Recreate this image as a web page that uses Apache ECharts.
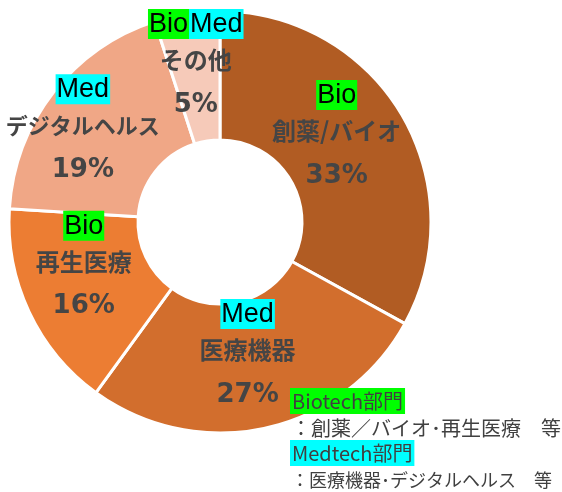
<!DOCTYPE html>
<html lang="ja">
<head>
    <meta charset="UTF-8">
    <title>部門別構成</title>
    <script type="text/javascript" src="https://cdn.jsdelivr.net/npm/echarts@6/dist/echarts.min.js"></script>
    <style>
        html, body { margin: 0; padding: 0; background: #fff; }
        #main { width: 562px; height: 492px; }
    </style>
</head>
<body>
<div id="main"></div>
<script>
    // データ
    var names = ['創薬/バイオ', '医療機器', '再生医療', 'デジタルヘルス', 'その他'];
    var values = [33, 27, 16, 19, 5];
    var tags = ['Bio', 'Med', 'Bio', 'Med', 'BioMed'];
    var colors = ['#B15C23', '#D26E2D', '#EC7D33', '#F0A786', '#F6CAB9'];
    var notes = ['Biotech部門', '：創薬／バイオ･再生医療　等', 'Medtech部門', '：医療機器･デジタルヘルス　等'];
    // ラベルの微調整 (px)
    var labelOffsets = [[-12, -6], [-5, -9], [-1, -15], [-19, 4], [0, 0]];
    var nameSizes = [24, 24, 24, 22, 24];

    var chartDom = document.getElementById('main');
    var myChart = echarts.init(chartDom);

    var cx = 220, cy = 222;
    var total = values.reduce(function (a, b) { return a + b; }, 0);
    var jp = '"Noto Sans CJK JP", sans-serif';

    function makeRich(nameSize) {
        return {
            bio: { backgroundColor: '#00FF00', color: '#000', fontFamily: 'Liberation Sans', fontSize: 27, padding: [2, 1, 1, 1], lineHeight: 32 },
            med: { backgroundColor: '#00FFFF', color: '#000', fontFamily: 'Liberation Sans', fontSize: 27, padding: [2, 1, 1, 1], lineHeight: 32 },
            name: { color: '#454545', fontFamily: jp, fontWeight: 'bold', fontSize: nameSize, lineHeight: 40, align: 'center' },
            pct: { color: '#454545', fontFamily: 'DejaVu Sans', fontWeight: 'bold', fontSize: 26, lineHeight: 50, align: 'center' }
        };
    }

    var pieData = names.map(function (n, i) {
        var d = { name: n, value: values[i], tag: tags[i], itemStyle: { color: colors[i] },
            label: { offset: labelOffsets[i], rich: makeRich(nameSizes[i]) } };
        if (i === names.length - 1) {
            // 小さい扇形は内側ラベルが消えるので外側扱いにして位置を調整
            d.label.position = 'outside';
            d.labelLine = { show: false };
        }
        return d;
    });

    function tagText(t) {
        if (t === 'BioMed') return '{bio|Bio}{med|Med}';
        return t === 'Bio' ? '{bio|Bio}' : '{med|Med}';
    }

    var option = {
        animation: false,
        series: [{
            type: 'pie',
            center: [cx, cy],
            radius: [82, 211],
            startAngle: 90,
            clockwise: true,
            avoidLabelOverlap: false,
            itemStyle: { borderColor: '#fff', borderWidth: 3 },
            label: {
                show: true,
                position: 'inside',
                formatter: function (p) {
                    return tagText(p.data.tag) + '\n{name|' + p.name + '}\n{pct|' + p.value + '%}';
                },
                rich: makeRich(24)
            },
            labelLine: { show: false },
            labelLayout: function (params) {
                if (params.dataIndex !== names.length - 1) return {};
                var before = 0;
                for (var i = 0; i < params.dataIndex; i++) before += values[i];
                var a = (before + values[params.dataIndex] / 2) / total * Math.PI * 2;
                var r = 155;
                return {
                    x: cx + r * Math.sin(a),
                    y: cy - r * Math.cos(a),
                    align: 'center',
                    verticalAlign: 'middle'
                };
            },
            data: pieData
        }],
        graphic: [
            { type: 'text', z: 100, left: 290, top: 388, style: { text: notes[0], font: '20px ' + jp, fill: '#404040', backgroundColor: '#00FF00', padding: [3, 2, 3, 2] } },
            { type: 'text', z: 100, left: 291, top: 418, style: { text: notes[1], font: '20px ' + jp, fill: '#404040' } },
            { type: 'text', z: 100, left: 290, top: 440, style: { text: notes[2], font: '20px ' + jp, fill: '#404040', backgroundColor: '#00FFFF', padding: [3, 2, 3, 2] } },
            { type: 'text', z: 100, left: 291, top: 471, style: { text: notes[3], font: '18px ' + jp, fill: '#404040' } }
        ]
    };
    myChart.setOption(option);
</script>
</body>
</html>
